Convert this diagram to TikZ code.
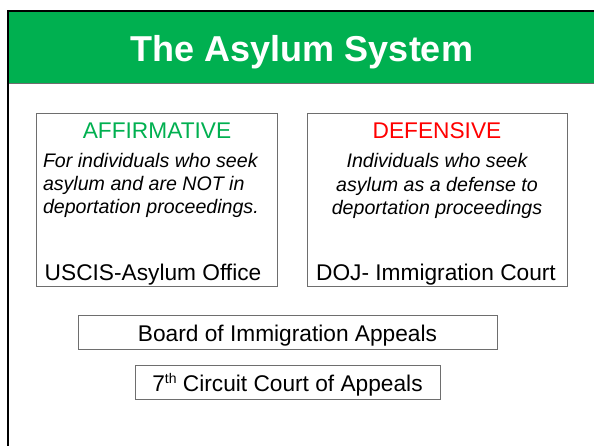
\documentclass[tikz,border=0pt]{standalone}
\usepackage{fontspec}
\setmainfont{Liberation Sans}
\definecolor{slidegreen}{RGB}{0,176,80}
\definecolor{boxgray}{RGB}{110,110,110}
\newcommand{\headfont}{\fontsize{22.7}{27}\selectfont}
\newcommand{\notefont}{\fontsize{19.6}{23}\selectfont\itshape}
\begin{document}
\begin{tikzpicture}[x=1pt,y=-1pt]
\tikzstyle{every node}=[inner sep=0pt,outer sep=0pt]
\tikzstyle{frame}=[draw=boxgray,line width=0.9pt,fill=white]
\useasboundingbox (0,0) rectangle (594,446);
% title band
\fill[slidegreen] (8,11) rectangle (594,84);
\draw[boxgray,line width=1pt] (8,84) -- (594,84);
\draw[black,line width=2.6pt] (8,446) -- (8,11) -- (594,11);
\node[text=white,font=\fontsize{36}{40}\selectfont\bfseries,anchor=base](title) at (302,61.5) {The Asylum System};
% two sides
\node[frame,minimum width=241pt,minimum height=173pt](aff) at (156.5,199.5) {};
\node[frame,minimum width=260pt,minimum height=173pt](def) at (437.5,199.5) {};
\node[anchor=base,text=slidegreen,font=\headfont](affh) at (157,139) {AFFIRMATIVE};
\node[anchor=base west,font=\notefont](aff1) at (43,168) {For individuals who seek};
\node[anchor=base west,font=\notefont](aff2) at (43,191) {asylum and are NOT in};
\node[anchor=base west,font=\notefont](aff3) at (43,214) {deportation proceedings.};
\node[anchor=base,font=\headfont](affo) at (153,280) {USCIS-Asylum Office};
\node[anchor=base,text=red,font=\headfont](defh) at (437,139) {DEFENSIVE};
\node[anchor=base,font=\notefont](def1) at (437,168) {Individuals who seek};
\node[anchor=base,font=\notefont](def2) at (437,191.5) {asylum as a defense to};
\node[anchor=base,font=\notefont](def3) at (437,215) {deportation proceedings};
\node[anchor=base,font=\headfont](defo) at (436,280) {DOJ- Immigration Court};
% appeals
\node[frame,minimum width=419pt,minimum height=34pt](bia) at (287.5,332) {};
\node[anchor=base,font=\headfont](biat) at (287.5,341) {Board of Immigration Appeals};
\node[frame,minimum width=305pt,minimum height=34pt](cca) at (287.5,382) {};
\node[anchor=base,font=\headfont](ccat) at (287.5,391) {7\raisebox{8pt}{\fontsize{14}{14}\selectfont th} Circuit Court of Appeals};
\end{tikzpicture}
\end{document}
